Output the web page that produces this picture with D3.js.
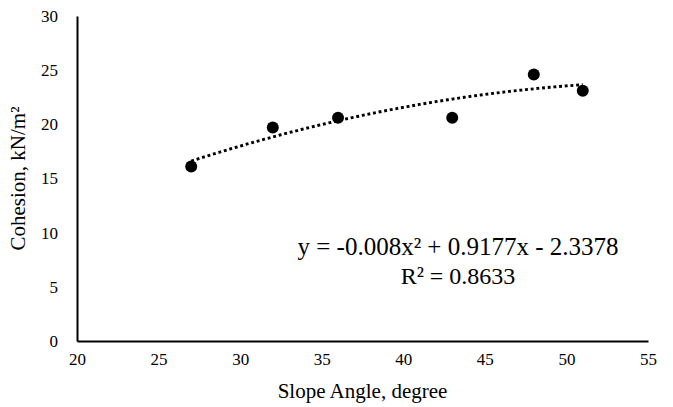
<!DOCTYPE html>
<html>
<head>
<meta charset="utf-8">
<script src="https://cdn.jsdelivr.net/npm/d3@7"></script>
<style>
  body { margin: 0; background: #fff; }
  svg text { font-family: "Liberation Serif", "Times New Roman", serif !important; fill: #000; }
</style>
</head>
<body>
<svg id="chart" width="673" height="407"></svg>
<script>
// observed points
const slopeAngle = [27, 32, 36, 43, 48, 51];
const cohesion = [16.1, 19.7, 20.6, 20.6, 24.6, 23.1];

// trendline coefficients as printed (a x^2 + b x + c)
const trendCoef = [-0.008, 0.9177, -2.3378];
const trendLabel = ["y = -0.008x\u00b2 + 0.9177x  - 2.3378", "R\u00b2 = 0.8633"];

const xTicks = [20, 25, 30, 35, 40, 45, 50, 55];
const yTicks = [0, 5, 10, 15, 20, 25, 30];

const svg = d3.select("#chart");
const margin = { left: 77, right: 25, top: 16, bottom: 66 };
const w = 673, h = 407;

const x = d3.scaleLinear().domain([20, 55]).range([margin.left, w - margin.right]);
const y = d3.scaleLinear().domain([0, 30]).range([h - margin.bottom, margin.top]);

// axes (no tick marks, just labels)
const xAxis = svg.append("g")
  .attr("transform", `translate(0,${y(0)})`)
  .call(d3.axisBottom(x).tickValues(xTicks).tickSize(0).tickPadding(12));
const yAxis = svg.append("g")
  .attr("transform", `translate(${x(20)},0)`)
  .call(d3.axisLeft(y).tickValues(yTicks).tickSize(0).tickPadding(19));

[xAxis, yAxis].forEach((g) => {
  g.attr("font-family", null).attr("font-size", null);
  g.select(".domain").attr("stroke", "#000").attr("stroke-width", 2);
  g.selectAll("text").style("font-size", "17px");
});

// trendline
const trendX = d3.range(slopeAngle[0], slopeAngle.at(-1) + 0.001, 0.25);
const trend = trendX.map((v) => [v, trendCoef[0] * v * v + trendCoef[1] * v + trendCoef[2]]);
svg.append("path")
  .datum(trend)
  .attr("fill", "none")
  .attr("stroke", "#000")
  .attr("stroke-width", 2.9)
  .attr("stroke-dasharray", "2.9,2.8")
  .attr("d", d3.line().x((d) => x(d[0])).y((d) => y(d[1])));

// points
svg.append("g")
  .selectAll("circle")
  .data(slopeAngle.map((v, i) => [v, cohesion[i]]))
  .join("circle")
  .attr("cx", (d) => x(d[0]))
  .attr("cy", (d) => y(d[1]))
  .attr("r", 6)
  .attr("fill", "#000");

// equation label
svg.append("text")
  .attr("x", 458)
  .attr("y", 255)
  .attr("text-anchor", "middle")
  .style("font-size", "25px")
  .text(trendLabel[0]);
svg.append("text")
  .attr("x", 458)
  .attr("y", 284)
  .attr("text-anchor", "middle")
  .style("font-size", "24px")
  .text(trendLabel[1]);

// axis titles
svg.append("text")
  .attr("x", (x(20) + x(55)) / 2)
  .attr("y", 398)
  .attr("text-anchor", "middle")
  .style("font-size", "21px")
  .text("Slope Angle, degree");
svg.append("text")
  .attr("transform", `translate(25,${(y(0) + y(30)) / 2}) rotate(-90)`)
  .attr("text-anchor", "middle")
  .style("font-size", "21px")
  .text("Cohesion, kN/m\u00b2");
</script>
</body>
</html>
